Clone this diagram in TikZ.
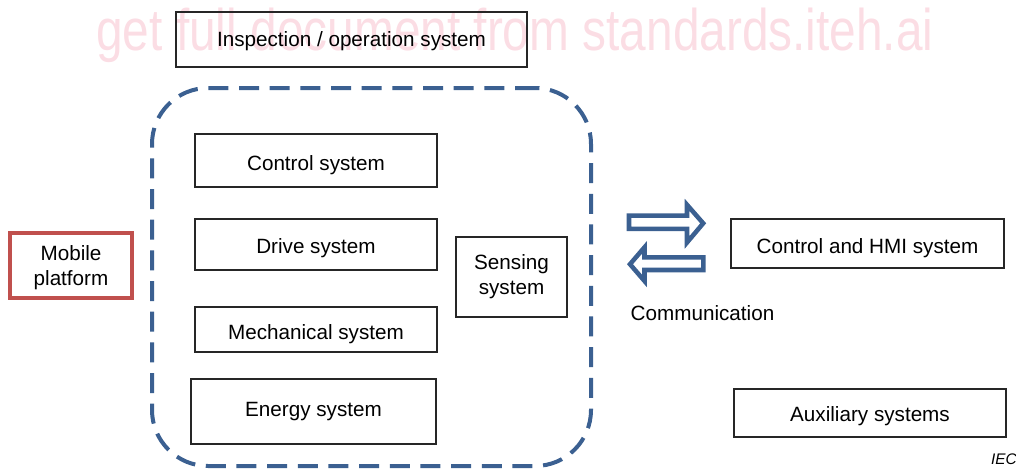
\documentclass[tikz,border=0pt]{standalone}
\usepackage{fontspec}
\setmainfont{Liberation Sans}
% invisible strut that sets the height of a node's first line
\newcommand\lift[1]{\rule{0pt}{#1pt}}
\begin{document}
\begin{tikzpicture}[x=0.75pt,y=-0.75pt,
  every node/.style={inner sep=0pt, align=center, font=\fontsize{15.5pt}{18.75pt}\selectfont},
  sysbox/.style={draw=black!85, line width=1.3pt},
  groupbox/.style={draw=iecblue, line width=3pt, dash pattern=on 15pt off 8pt, rounded corners=42pt},
  commarrow/.style={draw=iecblue, line width=3.4pt, fill=white, line join=miter},
]
\definecolor{iecblue}{RGB}{59,96,145}
\definecolor{wmpink}{RGB}{251,221,228}
\definecolor{platred}{RGB}{192,80,77}
\useasboundingbox (0,0) rectangle (1016,468);

% watermark line
\node[text=wmpink, font=\fontsize{44pt}{44pt}\selectfont, xscale=0.815, anchor=base] (wm) at (515,50) {get full document from standards.iteh.ai};

% top box
\node[sysbox, minimum width=351*0.75pt, minimum height=55*0.75pt] (insp) at (351.5,39.5) {\lift{14.1}Inspection / operation system};

% mobile platform group
\node[groupbox, minimum width=439*0.75pt, minimum height=378*0.75pt] (group) at (371.5,277) {};
\node[sysbox, fill=white, minimum width=242*0.75pt, minimum height=53*0.75pt] (ctrl) at (316,160.5) {\lift{18.6}Control system};
\node[sysbox, fill=white, minimum width=242*0.75pt, minimum height=51*0.75pt] (drive) at (316,244.5) {\lift{16.5}Drive system};
\node[sysbox, fill=white, minimum width=242*0.75pt, minimum height=45*0.75pt] (mech) at (316,329.5) {\lift{18}Mechanical system};
\node[sysbox, fill=white, minimum width=245*0.75pt, minimum height=65*0.75pt] (energy) at (313.5,411.5) {Energy system};
\node[sysbox, fill=white, minimum width=111*0.75pt, minimum height=80*0.75pt] (sensing) at (511.5,277) {Sensing\\system};

\node[draw=platred, line width=3pt, minimum width=122*0.75pt, minimum height=65*0.75pt] (mobile) at (71,265.5) {\lift{14.6}Mobile\\platform};

% communication arrows
\draw[commarrow] (629,215.6) -- (687,215.6) -- (687,204.8) -- (703.2,223.3) -- (687,242.5) -- (687,228.8) -- (629,228.8) -- cycle;
\draw[commarrow] (703.4,257.3) -- (644.5,257.3) -- (644.5,247.3) -- (630,264.2) -- (644.5,281) -- (644.5,270) -- (703.4,270) -- cycle;
\node[anchor=base] (comm) at (702.5,320) {Communication};

\node[sysbox, minimum width=273*0.75pt, minimum height=49*0.75pt] (hmi) at (867.5,243.5) {\lift{18}Control and HMI system};
\node[sysbox, minimum width=272*0.75pt, minimum height=48*0.75pt] (aux) at (870,413) {\lift{16.3}Auxiliary systems};

\node[anchor=base east, font=\fontsize{11.5pt}{12pt}\selectfont\itshape] (iec) at (1017,464) {IEC};
\end{tikzpicture}
\end{document}
